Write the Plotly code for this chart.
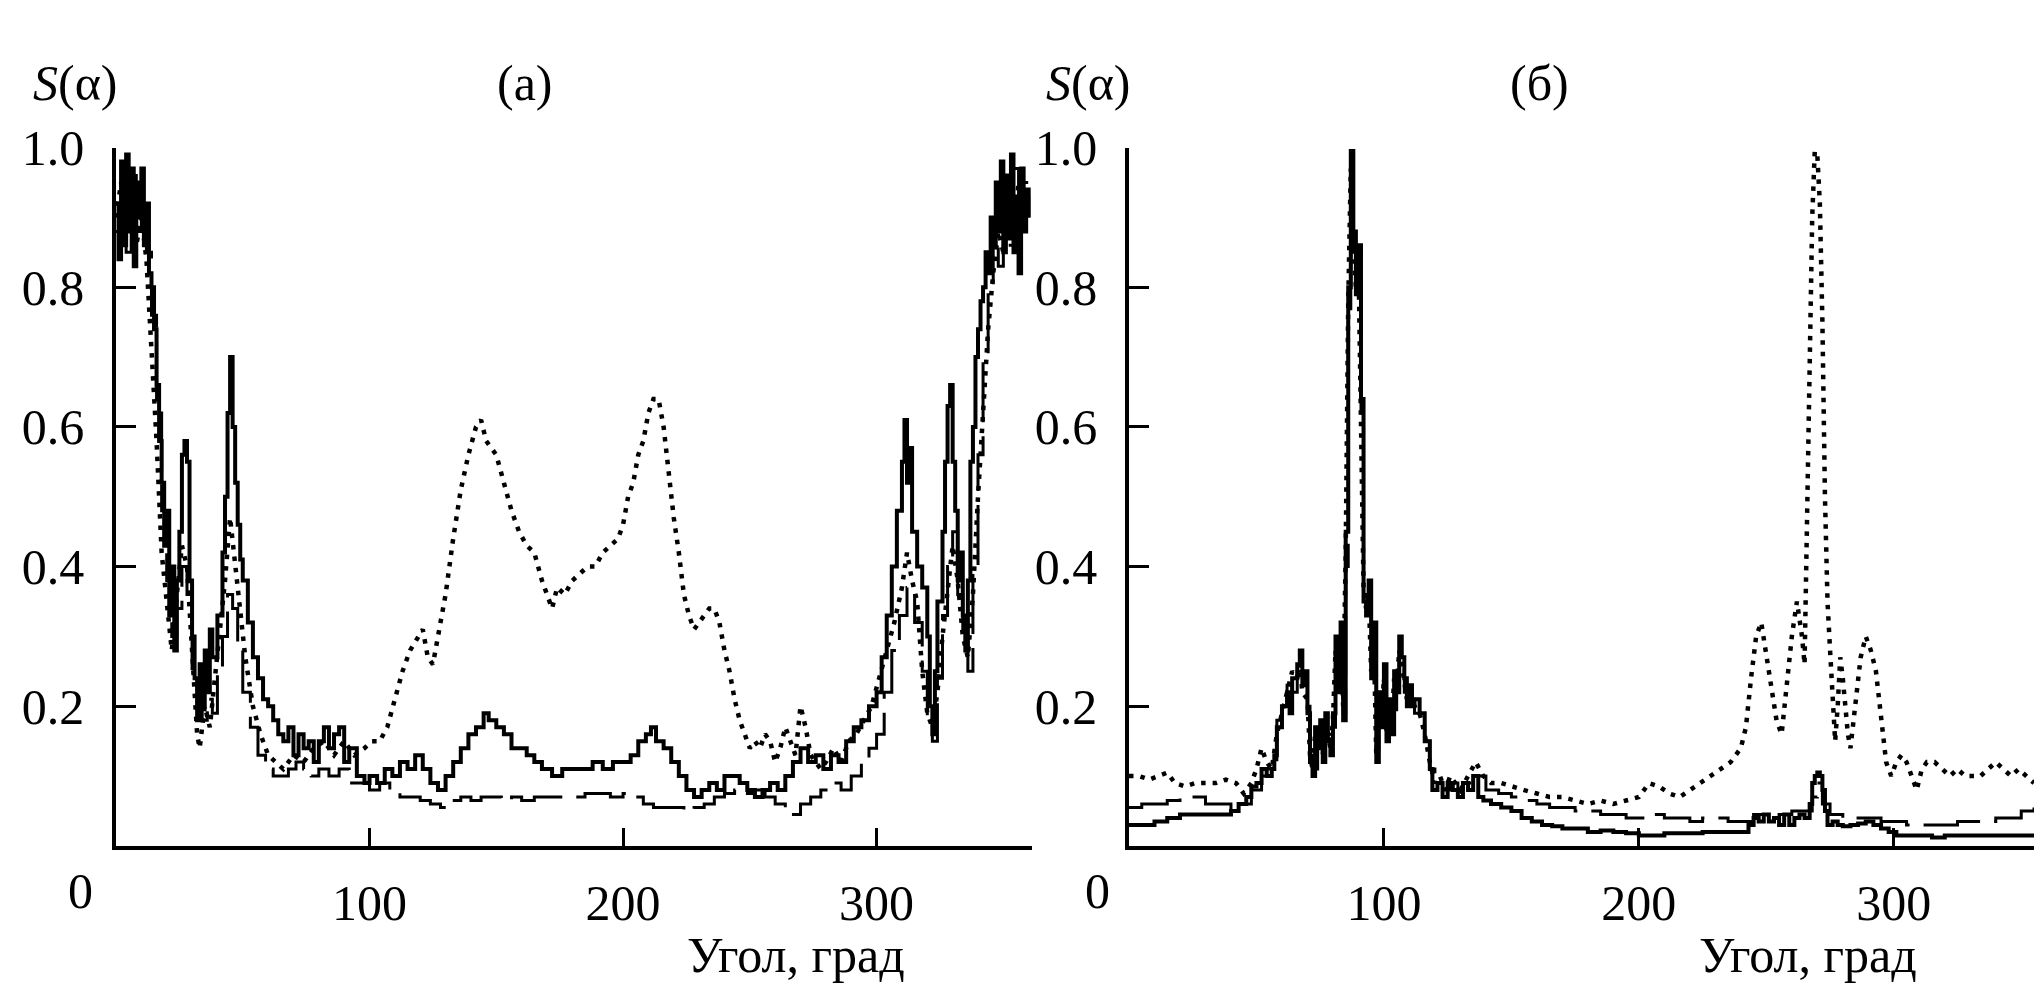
import plotly.graph_objects as go

# ---------------- data: panel (а) ----------------
A_SOLID = [(0,0.92),(1,0.84),(2,0.98),(3,0.86),(4,0.99),(5,0.88),(6,0.97),(7,0.83),(8,0.95),(9,0.90),
           (10,0.97),(11,0.86),(12,0.92),(13,0.82),(14,0.80),(15,0.74),(16,0.66),(17,0.58),(18,0.52),(19,0.43),
           (20,0.48),(21,0.33),(22,0.40),(23,0.28),(24,0.38),(25,0.45),(26,0.56),(27,0.58),(28,0.55),(29,0.38),
           (30,0.30),(31,0.24),(32,0.18),(33,0.26),(34,0.20),(35,0.28),(36,0.22),(37,0.31),(38,0.27),(40,0.33),
           (42,0.42),(43,0.50),(44,0.62),(45,0.70),(46,0.60),(47,0.52),(48,0.46),(49,0.41),(50,0.38),(52,0.32),
           (54,0.27),(56,0.24),(58,0.21),(60,0.20),(62,0.18),(64,0.16),(66,0.15),(68,0.17),(70,0.13),(72,0.16),
           (74,0.14),(76,0.15),(78,0.12),(80,0.15),(82,0.17),(84,0.14),(86,0.16),(88,0.17),(90,0.12),(92,0.14),
           (95,0.10),(98,0.09),(100,0.10),(103,0.09),(106,0.11),(109,0.10),(112,0.12),(115,0.11),(118,0.13),(121,0.11),
           (124,0.09),(127,0.08),(130,0.10),(133,0.12),(136,0.14),(139,0.16),(142,0.17),(145,0.19),(147,0.18),(150,0.17),
           (153,0.16),(156,0.14),(159,0.14),(162,0.13),(165,0.12),(168,0.11),(172,0.10),(176,0.11),(180,0.11),(184,0.11),
           (188,0.12),(192,0.11),(196,0.12),(200,0.12),(203,0.13),(206,0.15),(209,0.16),(211,0.17),(213,0.15),(216,0.14),
           (219,0.12),(222,0.10),(225,0.08),(228,0.07),(231,0.08),(234,0.09),(237,0.08),(240,0.10),(243,0.10),(246,0.09),
           (249,0.08),(252,0.07),(255,0.08),(258,0.09),(261,0.08),(264,0.10),(267,0.12),(270,0.14),(273,0.12),(276,0.13),
           (279,0.11),(282,0.13),(285,0.12),(288,0.15),(291,0.17),(294,0.18),(297,0.20),(300,0.22),(302,0.27),(304,0.33),
           (306,0.40),(308,0.48),(310,0.55),(311,0.61),(312,0.52),(313,0.57),(314,0.45),(316,0.40),(318,0.37),(320,0.30),
           (321,0.20),(322,0.16),(323,0.25),(324,0.35),(326,0.45),(327,0.55),(328,0.63),(329,0.66),(330,0.55),(331,0.48),
           (332,0.38),(333,0.42),(334,0.33),(335,0.28),(336,0.38),(337,0.55),(338,0.60),(339,0.70),(340,0.74),(341,0.78),
           (342,0.80),(343,0.85),(344,0.82),(345,0.90),(346,0.86),(347,0.95),(348,0.88),(349,0.98),(350,0.85),(351,0.96),
           (352,0.87),(353,0.99),(354,0.85),(355,0.93),(356,0.82),(357,0.97),(358,0.88),(359,0.94),(360,0.90)]

A_DOTTED = [(0,0.90),(2,0.95),(4,0.88),(6,0.93),(8,0.86),(10,0.90),(12,0.84),(14,0.72),(16,0.58),(18,0.42),
            (20,0.35),(22,0.28),(24,0.36),(26,0.43),(28,0.40),(30,0.28),(32,0.16),(33,0.14),(35,0.20),(37,0.17),
            (39,0.24),(41,0.30),(43,0.38),(45,0.47),(47,0.40),(49,0.33),(51,0.27),(54,0.20),(57,0.16),(60,0.13),
            (63,0.12),(66,0.11),(70,0.13),(74,0.12),(78,0.14),(82,0.15),(86,0.13),(90,0.15),(94,0.13),(98,0.14),
            (101,0.15),(104,0.15),(107,0.17),(110,0.21),(113,0.25),(116,0.28),(119,0.30),(121,0.31),(123,0.27),(125,0.26),
            (127,0.30),(130,0.36),(133,0.44),(136,0.51),(139,0.56),(142,0.60),(144,0.61),(146,0.58),(148,0.57),(150,0.56),
            (153,0.52),(156,0.48),(159,0.45),(162,0.43),(165,0.42),(168,0.38),(170,0.36),(172,0.34),(174,0.37),(177,0.36),
            (180,0.38),(183,0.39),(186,0.40),(189,0.40),(192,0.42),(195,0.43),(198,0.44),(200,0.46),(202,0.50),(204,0.52),
            (206,0.56),(208,0.58),(210,0.62),(212,0.64),(214,0.64),(216,0.60),(218,0.53),(220,0.47),(222,0.42),(224,0.36),
            (226,0.33),(228,0.31),(230,0.32),(232,0.33),(234,0.34),(236,0.34),(238,0.32),(240,0.28),(242,0.25),(244,0.21),
            (246,0.18),(248,0.16),(250,0.14),(252,0.15),(254,0.14),(256,0.16),(258,0.15),(260,0.12),(262,0.14),(264,0.17),
            (266,0.15),(268,0.13),(270,0.20),(272,0.17),(274,0.13),(276,0.12),(278,0.11),(280,0.12),(283,0.14),(286,0.12),
            (289,0.15),(292,0.16),(295,0.18),(298,0.20),(301,0.24),(304,0.28),(307,0.32),(310,0.37),(312,0.42),(314,0.38),
            (316,0.35),(318,0.25),(320,0.19),(322,0.17),(324,0.22),(326,0.30),(328,0.37),(330,0.43),(332,0.38),(334,0.30),
            (336,0.27),(338,0.36),(340,0.50),(342,0.62),(344,0.74),(346,0.82),(348,0.88),(350,0.85),(352,0.92),(354,0.87),
            (356,0.95),(358,0.89),(360,0.93)]

A_THIN = [(0,0.88),(2,0.93),(4,0.85),(6,0.96),(8,0.88),(10,0.93),(12,0.85),(14,0.76),(16,0.62),(18,0.48),
          (20,0.38),(22,0.30),(24,0.34),(26,0.40),(28,0.36),(30,0.25),(32,0.20),(34,0.18),(36,0.21),(38,0.19),
          (40,0.25),(42,0.30),(44,0.36),(46,0.34),(48,0.28),(50,0.22),(53,0.17),(56,0.13),(59,0.11),(62,0.10),
          (65,0.10),(68,0.11),(71,0.12),(74,0.11),(77,0.10),(80,0.11),(84,0.10),(88,0.11),(92,0.09),(96,0.09),
          (100,0.08),(104,0.09),(108,0.08),(112,0.07),(116,0.07),(120,0.065),(124,0.06),(128,0.055),(132,0.065),(136,0.07),
          (140,0.065),(144,0.07),(148,0.07),(152,0.065),(156,0.07),(160,0.065),(165,0.07),(170,0.07),(175,0.07),(180,0.07),
          (185,0.075),(190,0.075),(195,0.07),(200,0.075),(204,0.07),(208,0.06),(212,0.055),(216,0.055),(220,0.055),(224,0.05),
          (228,0.055),(232,0.06),(236,0.07),(240,0.075),(244,0.08),(248,0.075),(252,0.08),(256,0.07),(260,0.06),(264,0.05),
          (266,0.045),(270,0.06),(274,0.07),(278,0.08),(282,0.09),(286,0.08),(290,0.10),(294,0.12),(297,0.14),(300,0.16),
          (303,0.22),(306,0.28),(309,0.33),(312,0.37),(315,0.32),(318,0.25),(320,0.18),(322,0.15),(324,0.24),(326,0.33),
          (328,0.40),(330,0.45),(332,0.36),(334,0.30),(336,0.25),(338,0.40),(340,0.56),(342,0.70),(344,0.80),(346,0.88),
          (348,0.83),(350,0.93),(352,0.86),(354,0.97),(356,0.88),(358,0.95),(360,0.90)]

# ---------------- data: panel (б) ----------------
B_SOLID = [(0,0.03),(5,0.03),(10,0.035),(15,0.04),(20,0.045),(25,0.045),(30,0.045),(35,0.045),(40,0.05),(43,0.06),
           (46,0.07),(48,0.085),(50,0.09),(52,0.11),(54,0.10),(56,0.11),(57,0.13),(58,0.17),(60,0.20),(62,0.22),
           (63,0.19),(64,0.24),(66,0.26),(67,0.28),(68,0.23),(69,0.25),(70,0.19),(71,0.12),(72,0.10),(73,0.17),
           (74,0.14),(75,0.18),(76,0.12),(77,0.19),(78,0.15),(79,0.13),(80,0.19),(81,0.30),(82,0.22),(83,0.32),
           (84,0.18),(85,0.45),(86,0.80),(87,0.995),(88,0.88),(89,0.79),(90,0.86),(91,0.64),(92,0.35),(93,0.33),
           (94,0.38),(95,0.24),(96,0.32),(97,0.12),(98,0.22),(99,0.17),(100,0.26),(101,0.15),(102,0.21),(103,0.16),
           (104,0.25),(105,0.22),(106,0.30),(107,0.27),(108,0.24),(109,0.20),(110,0.23),(111,0.20),(112,0.21),(114,0.19),
           (116,0.15),(118,0.11),(119,0.08),(121,0.09),(123,0.07),(125,0.09),(127,0.08),(129,0.07),(131,0.09),(133,0.08),
           (135,0.10),(137,0.07),(139,0.065),(142,0.06),(146,0.055),(150,0.05),(154,0.04),(158,0.035),(162,0.03),(166,0.028),
           (170,0.025),(175,0.025),(180,0.02),(185,0.022),(190,0.02),(195,0.018),(200,0.015),(205,0.015),(210,0.018),(215,0.018),
           (220,0.018),(225,0.02),(230,0.02),(235,0.02),(240,0.02),(243,0.03),(245,0.04),(247,0.035),(249,0.045),(251,0.035),
           (253,0.04),(255,0.03),(257,0.045),(259,0.03),(261,0.04),(263,0.045),(265,0.04),(267,0.06),(268,0.09),(269,0.10),
           (270,0.105),(271,0.10),(272,0.08),(273,0.05),(274,0.03),(276,0.035),(278,0.03),(280,0.028),(283,0.03),(286,0.032),
           (289,0.035),(292,0.03),(295,0.025),(298,0.02),(301,0.015),(305,0.015),(310,0.015),(315,0.012),(320,0.015),(325,0.015),
           (330,0.015),(335,0.015),(340,0.015),(345,0.015),(350,0.015),(355,0.015)]

B_DOTTED = [(0,0.10),(4,0.10),(8,0.095),(12,0.10),(15,0.105),(18,0.09),(22,0.085),(26,0.09),(30,0.09),(34,0.09),
            (38,0.095),(42,0.09),(45,0.075),(48,0.09),(50,0.11),(52,0.14),(54,0.12),(56,0.11),(58,0.16),(60,0.19),
            (62,0.22),(64,0.25),(66,0.24),(67,0.26),(68,0.22),(70,0.21),(71,0.13),(72,0.11),(73,0.16),(74,0.15),
            (75,0.17),(76,0.13),(77,0.18),(78,0.16),(79,0.14),(80,0.18),(81,0.28),(82,0.23),(83,0.30),(84,0.20),
            (85,0.42),(86,0.78),(87,0.97),(88,0.86),(89,0.80),(90,0.84),(91,0.62),(92,0.37),(93,0.34),(94,0.36),
            (95,0.25),(96,0.30),(97,0.13),(98,0.21),(99,0.18),(100,0.24),(101,0.16),(102,0.20),(103,0.17),(104,0.24),
            (105,0.23),(106,0.28),(107,0.26),(108,0.23),(109,0.21),(110,0.22),(112,0.20),(114,0.19),(116,0.16),(118,0.12),
            (120,0.09),(122,0.10),(124,0.08),(126,0.10),(128,0.09),(130,0.08),(133,0.10),(136,0.12),(139,0.10),(142,0.09),
            (146,0.09),(150,0.085),(155,0.08),(160,0.075),(165,0.07),(170,0.07),(175,0.065),(180,0.06),(185,0.065),(190,0.06),
            (195,0.065),(200,0.07),(204,0.09),(208,0.085),(212,0.075),(216,0.07),(220,0.08),(224,0.09),(228,0.10),(232,0.11),
            (236,0.12),(240,0.14),(242,0.17),(244,0.24),(246,0.30),(248,0.32),(250,0.27),(252,0.22),(254,0.18),(256,0.16),
            (258,0.23),(260,0.30),(262,0.35),(264,0.30),(265,0.26),(266,0.45),(267,0.70),(268,0.90),(269,0.995),(270,0.99),
            (271,0.92),(272,0.75),(273,0.50),(274,0.35),(275,0.28),(276,0.22),(277,0.15),(278,0.20),(279,0.27),(280,0.24),
            (281,0.19),(282,0.16),(283,0.14),(285,0.20),(287,0.27),(289,0.30),(291,0.28),(293,0.25),(295,0.18),(297,0.12),
            (299,0.10),(301,0.12),(303,0.13),(305,0.12),(307,0.10),(309,0.08),(311,0.11),(313,0.12),(316,0.12),(319,0.11),
            (322,0.10),(325,0.11),(328,0.10),(331,0.10),(334,0.10),(337,0.11),(340,0.12),(343,0.11),(346,0.10),(349,0.11),
            (352,0.10),(355,0.09)]

B_THIN = [(0,0.055),(5,0.06),(10,0.06),(15,0.065),(20,0.07),(25,0.07),(30,0.06),(35,0.06),(40,0.05),(44,0.06),
          (48,0.08),(52,0.10),(54,0.11),(56,0.12),(58,0.18),(60,0.21),(62,0.23),(64,0.22),(66,0.25),(68,0.24),
          (70,0.20),(71,0.14),(72,0.11),(74,0.15),(76,0.14),(78,0.16),(80,0.17),(81,0.27),(83,0.29),(84,0.19),
          (85,0.40),(86,0.75),(87,0.93),(88,0.85),(89,0.81),(90,0.82),(91,0.60),(92,0.36),(94,0.35),(95,0.26),
          (96,0.29),(97,0.14),(98,0.20),(100,0.23),(101,0.17),(103,0.18),(105,0.22),(106,0.27),(108,0.22),(110,0.21),
          (112,0.19),(114,0.18),(116,0.15),(118,0.11),(120,0.09),(123,0.08),(126,0.09),(129,0.08),(131,0.09),(135,0.10),
          (140,0.08),(145,0.075),(150,0.07),(155,0.065),(160,0.06),(165,0.055),(170,0.055),(175,0.05),(180,0.05),(185,0.045),
          (190,0.045),(195,0.04),(200,0.04),(205,0.045),(210,0.04),(215,0.04),(220,0.035),(225,0.04),(230,0.04),(235,0.035),
          (240,0.035),(245,0.045),(250,0.04),(255,0.045),(260,0.05),(265,0.05),(268,0.07),(270,0.09),(272,0.06),(275,0.045),
          (280,0.04),(285,0.04),(290,0.04),(295,0.035),(300,0.035),(305,0.03),(310,0.03),(315,0.03),(320,0.03),(325,0.035),
          (330,0.035),(335,0.035),(340,0.04),(345,0.04),(350,0.05),(355,0.055)]

X_TICKS = [100, 200, 300]
Y_TICKS = [0.2, 0.4, 0.6, 0.8, 1.0]
Y_TICK_TEXT = ["0.2", "0.4", "0.6", "0.8", "1.0"]
X_TITLE = "Угол, град"
Y_TITLE = "<i>S</i>(α)"
PANEL_LABELS = ["(а)", "(б)"]

# ---------------- figure ----------------
W, H = 2034, 985
FONT = "Liberation Serif, Times New Roman, serif"
FS = 50

fig = go.Figure()

def add_series(data, xa, ya, width, dash, shape):
    fig.add_trace(go.Scatter(
        x=[p[0] for p in data], y=[p[1] for p in data],
        mode="lines", xaxis=xa, yaxis=ya, showlegend=False,
        line=dict(color="black", width=width, dash=dash, shape=shape),
        hoverinfo="skip"))

add_series(A_THIN, "x", "y", 3, "60px,14px", "hv")
add_series(A_DOTTED, "x", "y", 4.5, "4.5px,7px", "linear")
add_series(A_SOLID, "x", "y", 4, "solid", "hv")
add_series(B_THIN, "x2", "y2", 3, "60px,14px", "hv")
add_series(B_DOTTED, "x2", "y2", 4.5, "4.5px,7px", "linear")
add_series(B_SOLID, "x2", "y2", 4, "solid", "hv")

y_dom = [(H - 842) / H, (H - 124) / H]
xa_common = dict(showline=True, linecolor="black", linewidth=3.5, ticks="inside", ticklen=18,
                 tickwidth=2.5, tickcolor="black", tickvals=X_TICKS, showgrid=False, zeroline=False,
                 tickfont=dict(family=FONT, size=FS, color="black"), ticklabelstandoff=10,
                 fixedrange=True)
ya_common = dict(showline=True, linecolor="black", linewidth=3.5, ticks="inside", ticklen=20,
                 tickwidth=2.5, tickcolor="black", tickvals=Y_TICKS, ticktext=Y_TICK_TEXT,
                 showgrid=False, zeroline=False, range=[0, 1.0], domain=y_dom,
                 tickfont=dict(family=FONT, size=FS, color="black"), ticklabelstandoff=18,
                 fixedrange=True)

fig.update_layout(
    width=W, height=H, margin=dict(l=0, r=0, t=0, b=0),
    paper_bgcolor="white", plot_bgcolor="white",
    xaxis=dict(domain=[116 / W, 1032 / W], range=[0, 361.3], anchor="y", **xa_common),
    yaxis=dict(anchor="x", **ya_common),
    xaxis2=dict(domain=[1129 / W, 1.0], range=[0, 355], anchor="y2", **xa_common),
    yaxis2=dict(anchor="x2", **ya_common),
)

def ann(text, x, y, yanchor="middle"):
    fig.add_annotation(text=text, xref="paper", yref="paper", x=x / W, y=(H - y) / H,
                       xanchor="center", yanchor=yanchor, showarrow=False,
                       font=dict(family=FONT, size=FS, color="black"))

ann("0", 80, 888)
ann("0", 1097, 888)
ann(X_TITLE, 796, 985, "bottom")
ann(X_TITLE, 1808, 985, "bottom")
ann(Y_TITLE, 75, 58)
ann(Y_TITLE, 1088, 58)
ann(PANEL_LABELS[0], 525, 58)
ann(PANEL_LABELS[1], 1539, 58)

fig.write_html("out.html")
